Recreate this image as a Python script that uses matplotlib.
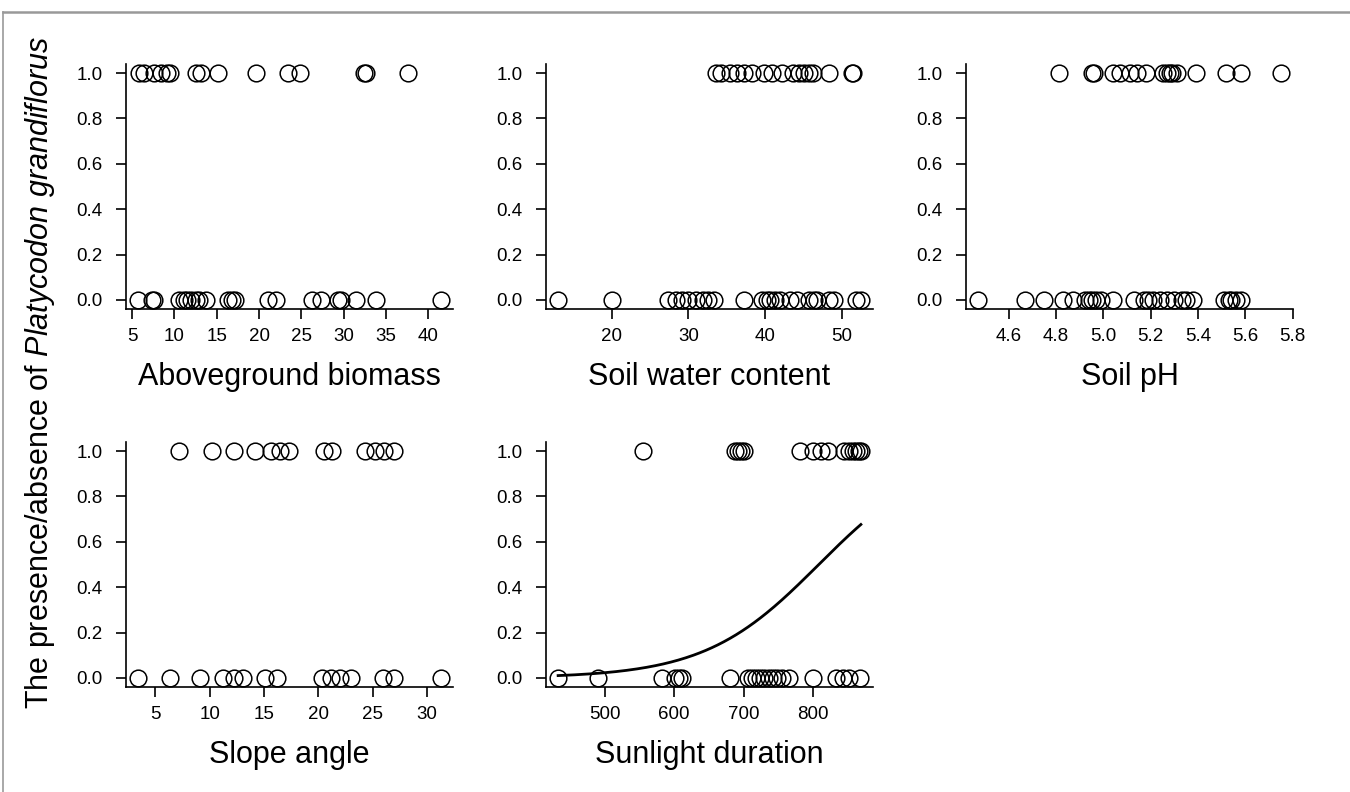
import numpy as np
import matplotlib
matplotlib.use("Agg")
import matplotlib.pyplot as plt
from matplotlib.lines import Line2D

plt.rcParams['font.family'] = ['Liberation Sans', 'DejaVu Sans']
plt.rcParams['mathtext.fontset'] = 'custom'
plt.rcParams['mathtext.rm'] = 'Liberation Sans'
plt.rcParams['mathtext.it'] = 'Liberation Sans:italic'

# presence (1) / absence (0) observations per predictor
biomass_1 = [5.8, 6.4, 7.6, 8.4, 9.1, 9.5, 12.5, 13.1, 15.1, 19.6, 23.4, 24.8, 32.4, 32.6, 37.6]
biomass_0 = [5.7, 7.3, 7.6, 10.5, 11.1, 11.5, 11.9, 12.5, 12.9, 13.7, 16.3, 16.8, 17.2,
             21.0, 22.0, 26.3, 27.3, 29.3, 29.7, 31.5, 33.8, 41.5]

water_1 = [33.6, 34.3, 35.4, 36.3, 37.2, 38.3, 39.8, 40.9, 42.2, 43.7, 44.4, 45.1, 45.7,
           46.2, 48.4, 51.3, 51.5]
water_0 = [13.0, 20.0, 27.3, 28.4, 29.2, 29.9, 31.0, 31.9, 32.5, 33.4, 37.2, 39.6, 40.2,
           40.7, 41.3, 42.0, 43.3, 44.2, 45.7, 46.4, 46.8, 48.4, 49.0, 51.9, 52.5]

ph_1 = [4.81, 4.95, 4.96, 5.04, 5.07, 5.11, 5.14, 5.18, 5.25, 5.27, 5.28, 5.29, 5.31,
        5.39, 5.52, 5.58, 5.75]
ph_0 = [4.47, 4.67, 4.75, 4.83, 4.87, 4.92, 4.94, 4.95, 4.97, 4.99, 5.04, 5.13, 5.17,
        5.19, 5.21, 5.24, 5.27, 5.30, 5.33, 5.35, 5.38, 5.51, 5.53, 5.54, 5.56, 5.58]

slope_1 = [7.2, 10.2, 12.2, 14.2, 15.6, 16.5, 17.3, 20.5, 21.3, 24.3, 25.2, 26.1, 27.0]
slope_0 = [3.4, 6.3, 9.1, 11.2, 12.2, 13.1, 15.1, 16.2, 20.3, 21.2, 22.0, 23.0, 26.0,
           27.0, 31.3]

sun_1 = [555, 687, 692, 697, 701, 782, 800, 812, 822, 845, 852, 858, 862, 866, 869]
sun_0 = [433, 490, 583, 602, 607, 612, 680, 706, 712, 718, 724, 730, 737, 742, 748,
         756, 765, 800, 833, 843, 852, 868]

# fitted logistic model for sunlight duration
sun_intercept = -9.83
sun_slope = 0.01216

panels = [
    ("Aboveground biomass", biomass_1, biomass_0, [5, 10, 15, 20, 25, 30, 35, 40], "{:g}"),
    ("Soil water content", water_1, water_0, [20, 30, 40, 50], "{:g}"),
    ("Soil pH", ph_1, ph_0, [4.6, 4.8, 5.0, 5.2, 5.4, 5.6, 5.8], "{:.1f}"),
    ("Slope angle", slope_1, slope_0, [5, 10, 15, 20, 25, 30], "{:g}"),
    ("Sunlight duration", sun_1, sun_0, [500, 600, 700, 800], "{:g}"),
]

W, H = 1350, 792
fig = plt.figure(figsize=(W / 100, H / 100), dpi=100)

lefts = [126, 546, 966]
tops = [64, 442]
pw, ph = 327, 245

for i, (label, ones, zeros, ticks, fmt) in enumerate(panels):
    row, col = divmod(i, 3)
    ax = fig.add_axes([lefts[col] / W, 1 - (tops[row] + ph) / H, pw / W, ph / H])
    ax.plot(ones, np.ones(len(ones)), 'o', ms=12, mfc='none', mec='black', mew=1.1,
            clip_on=False)
    ax.plot(zeros, np.zeros(len(zeros)), 'o', ms=12, mfc='none', mec='black', mew=1.1,
            clip_on=False)
    if label == "Sunlight duration":
        xs = np.linspace(min(sun_0 + sun_1), max(sun_0 + sun_1), 200)
        ax.plot(xs, 1 / (1 + np.exp(-(sun_intercept + sun_slope * xs))), color='black', lw=2)
    ax.margins(0.04)
    ax.set_xticks(ticks)
    ax.set_xticklabels([fmt.format(t) for t in ticks])
    ax.set_yticks([0, 0.2, 0.4, 0.6, 0.8, 1.0])
    ax.set_yticklabels(["0.0", "0.2", "0.4", "0.6", "0.8", "1.0"])
    for s in ['top', 'right']:
        ax.spines[s].set_visible(False)
    for s in ['left', 'bottom']:
        ax.spines[s].set_linewidth(1.2)
    ax.tick_params(axis='both', direction='out', length=7, width=1.2, labelsize=13.5)
    ax.tick_params(axis='y', pad=10)
    ax.tick_params(axis='x', pad=7)
    ax.set_xlabel(label, fontsize=22, labelpad=12)

fig.text(40 / W, 1 - 373 / H,
         r"The presence/absence of $\mathit{Platycodon\ grandiflorus}$",
         rotation=90, ha='center', va='center', fontsize=22)

# grey frame of the original figure
fig.add_artist(Line2D([3 / W, 1], [1 - 12 / H, 1 - 12 / H], transform=fig.transFigure,
                      color='#999999', lw=1.8))
fig.add_artist(Line2D([3 / W, 3 / W], [0, 1 - 12 / H], transform=fig.transFigure,
                      color='#999999', lw=1.2))

fig.savefig("out.png", dpi=100)
